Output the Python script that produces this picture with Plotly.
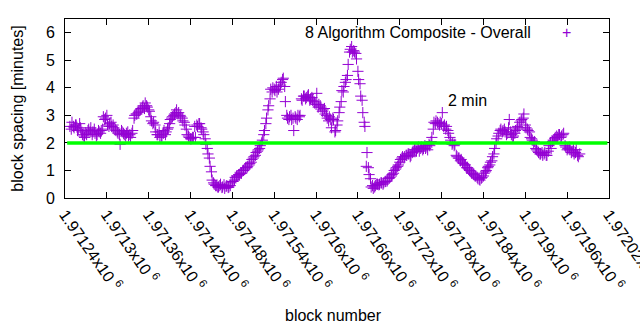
import plotly.graph_objects as go

# ---------------- data ----------------
SERIES_NAME = "8 Algorithm Composite - Overall"
FIRST_BLOCK = 1971247
BLOCK_STEP = 3

# spacing (minutes) for blocks FIRST_BLOCK + 3*i
spacing_a = [
    2.6, 2.75, 2.55, 2.65, 2.5, 2.55, 2.3, 2.2, 2.3, 2.5,
    2.55, 2.4, 2.35, 2.3, 2.4, 2.45, 2.95, 2.9, 2.65, 2.7,
    2.6, 2.55, 2.45, 2.35, 1.95, 2.4, 2.3, 2.35, 2.25, 2.2,
    2.45, 3.0, 3.05, 3.15, 3.25, 3.35, 3.45, 3.3, 3.15, 2.8,
    2.75, 2.4, 2.3, 2.2, 2.25, 2.45, 2.4, 2.55, 2.85, 2.95,
    3.05, 3.2, 3.1, 2.95, 2.8, 2.65, 2.3, 2.2, 2.15, 2.2,
    2.2, 2.6, 2.7, 2.5, 2.3, 1.95, 1.6, 1.15, 0.65, 0.5,
    0.45, 0.4, 0.5, 0.4, 0.35, 0.45, 0.4, 0.55, 0.6, 0.75,
    0.8, 0.85, 0.9, 1.0, 1.1, 1.15, 1.25, 1.4, 1.5, 1.65,
    1.75, 1.9, 2.1, 2.45, 2.9, 3.35, 3.95, 4.0, 3.9, 3.85,
    4.05, 4.2, 4.35, 3.5, 2.9, 2.95, 2.85, 2.45, 2.9, 3.0,
    3.0, 3.55, 3.7, 3.65, 3.75, 3.6, 3.55, 3.45, 3.8, 3.4,
    3.3, 3.2, 3.05, 2.9, 2.95, 2.55, 2.85, 2.45, 2.8, 3.3,
    3.9, 4.05, 4.3, 4.85, 5.4, 5.3, 5.3, 5.05, 4.3, 3.7,
    3.1, 2.6, 1.65, 0.85, 0.4, 0.35, 0.45, 0.5, 0.5, 0.55,
    0.55, 0.6, 0.7, 0.75, 0.85, 1.0, 1.1, 1.2, 1.4, 1.5,
    1.5, 1.55, 1.6, 1.55, 1.7, 1.75, 1.8, 1.7, 1.85, 1.8,
    1.8, 1.75, 1.9, 2.2, 2.75, 2.8, 2.7, 2.75, 3.1, 2.65,
    2.6, 2.35, 2.1, 2.0, 1.95, 1.5, 1.45, 1.4, 1.25, 1.2,
    1.1, 1.0, 0.9, 0.85, 0.8, 0.7, 0.65, 0.75, 0.9, 1.0,
    1.15, 1.3, 1.5, 1.8, 2.15, 2.35, 2.5, 2.45, 2.4, 2.35,
    2.85, 2.3, 2.25, 2.45, 2.6, 2.75, 2.85, 3.05, 2.55, 2.45,
    2.2, 2.1, 2.05, 1.75, 1.65, 1.6, 1.55, 1.65, 1.55, 1.9,
    1.8, 2.1, 2.2, 2.2, 2.3, 2.25, 2.35, 1.85, 1.8, 1.75,
    1.7, 1.6, 1.75, 1.5,
]
# spacing (minutes) for blocks FIRST_BLOCK + 2 + 3*i
spacing_b = [
    2.5, 2.6, 2.65, 2.45, 2.7, 2.4, 2.25, 2.35, 2.45, 2.4,
    2.3, 2.5, 2.25, 2.45, 2.35, 2.5, 2.85, 3.0, 2.6, 2.75,
    2.65, 2.5, 2.4, 2.3, 2.45, 2.35, 2.25, 2.4, 2.3, 2.35,
    2.9, 3.05, 3.1, 3.2, 3.3, 3.25, 3.35, 3.2, 2.95, 2.7,
    2.65, 2.3, 2.4, 2.25, 2.35, 2.3, 2.5, 2.7, 2.9, 3.0,
    3.1, 3.05, 3.0, 2.9, 2.75, 2.5, 2.25, 2.15, 2.2, 2.6,
    2.65, 2.7, 2.55, 2.4, 2.15, 1.8, 1.45, 0.95, 0.55, 0.45,
    0.4, 0.45, 0.38, 0.48, 0.42, 0.38, 0.45, 0.6, 0.65, 0.8,
    0.85, 0.9, 1.0, 1.05, 1.1, 1.2, 1.3, 1.45, 1.55, 1.7,
    1.8, 2.0, 2.3, 2.7, 3.2, 3.6, 3.85, 3.95, 4.05, 3.95,
    4.1, 4.3, 4.05, 3.0, 2.85, 3.0, 2.9, 2.95, 2.85, 2.95,
    3.6, 3.7, 3.6, 3.7, 3.55, 3.65, 3.5, 3.4, 3.3, 3.35,
    3.15, 3.25, 3.0, 2.8, 2.85, 2.9, 2.4, 2.65, 3.1, 3.5,
    3.85, 4.2, 4.45, 5.3, 5.5, 5.35, 5.25, 4.6, 4.15, 3.55,
    2.75, 1.15, 1.1, 0.7, 0.45, 0.4, 0.5, 0.48, 0.55, 0.5,
    0.6, 0.62, 0.72, 0.8, 0.9, 1.05, 1.15, 1.3, 1.45, 1.45,
    1.55, 1.6, 1.5, 1.65, 1.75, 1.7, 1.85, 1.8, 1.75, 1.9,
    1.85, 1.95, 2.05, 2.5, 2.7, 2.75, 2.65, 2.7, 2.6, 2.5,
    2.45, 2.2, 1.95, 1.9, 1.55, 1.45, 1.35, 1.3, 1.2, 1.1,
    1.05, 0.95, 0.9, 0.8, 0.75, 0.68, 0.72, 0.8, 0.95, 1.1,
    1.2, 1.35, 1.6, 2.0, 2.25, 2.45, 2.4, 2.5, 2.3, 2.55,
    2.4, 2.2, 2.35, 2.5, 2.55, 2.8, 2.9, 2.65, 2.5, 2.4,
    2.15, 2.0, 1.8, 1.7, 1.6, 1.65, 1.6, 1.55, 1.7, 2.0,
    2.05, 2.15, 2.25, 2.3, 2.2, 2.3, 1.9, 1.75, 1.85, 1.65,
    1.75, 1.65, 1.55, 1.6,
]
blocks_a = [FIRST_BLOCK + BLOCK_STEP * i for i in range(len(spacing_a))]
blocks_b = [FIRST_BLOCK + 2 + BLOCK_STEP * i for i in range(len(spacing_b))]
block_numbers = blocks_a + blocks_b
spacing_minutes = spacing_a + spacing_b

TARGET_MINUTES = 2
TARGET_LABEL = "2 min"

x_tick_values = [1971240, 1971300, 1971360, 1971420, 1971480, 1971540, 1971600,
                 1971660, 1971720, 1971780, 1971840, 1971900, 1971960, 1972020]
x_tick_labels = ["1.97124x10 <sup>6</sup>", "1.9713x10 <sup>6</sup>", "1.97136x10 <sup>6</sup>",
                 "1.97142x10 <sup>6</sup>", "1.97148x10 <sup>6</sup>", "1.97154x10 <sup>6</sup>",
                 "1.9716x10 <sup>6</sup>", "1.97166x10 <sup>6</sup>", "1.97172x10 <sup>6</sup>",
                 "1.97178x10 <sup>6</sup>", "1.97184x10 <sup>6</sup>", "1.9719x10 <sup>6</sup>",
                 "1.97196x10 <sup>6</sup>", "1.97202x10 <sup>6</sup>"]
y_tick_values = [0, 1, 2, 3, 4, 5, 6]

X_TITLE = "block number"
Y_TITLE = "block spacing [minutes]"

# ---------------- style ----------------
PURPLE = "#9400d3"
GREEN = "#00ff00"
FONT = "Liberation Sans, Arial, sans-serif"
FS = 16

fig = go.Figure()
fig.add_trace(go.Scatter(
    x=block_numbers, y=spacing_minutes, mode="markers", name=SERIES_NAME,
    showlegend=False,
    marker=dict(symbol="cross-thin-open", size=8, color=PURPLE,
                line=dict(width=1, color=PURPLE)),
))

fig.add_shape(type="line", xref="paper", yref="y", x0=0.004, x1=0.997,
              y0=TARGET_MINUTES, y1=TARGET_MINUTES,
              line=dict(color=GREEN, width=3.5), layer="above")

axis_common = dict(
    showline=True, linecolor="black", linewidth=1, mirror="allticks",
    ticks="inside", ticklen=6, tickcolor="black", tickwidth=1,
    showgrid=False, zeroline=False, automargin=False,
    tickfont=dict(family=FONT, size=FS, color="black"),
)

fig.update_layout(
    width=640, height=330,
    margin=dict(l=65, r=31, t=19, b=132),
    paper_bgcolor="white", plot_bgcolor="white",
    font=dict(family=FONT, size=FS, color="black"),
    xaxis=dict(range=[x_tick_values[0], x_tick_values[-1]],
               tickmode="array", tickvals=x_tick_values, ticktext=x_tick_labels,
               tickangle=55, ticklabeloverflow="allow", **axis_common),
    yaxis=dict(range=[0, 6.5], tickmode="array", tickvals=y_tick_values,
               ticklabelstandoff=6, **axis_common),
    showlegend=False,
)

annotations = [
    dict(text=Y_TITLE, xref="paper", yref="paper", x=-0.088, y=0.5,
         xanchor="center", yanchor="middle", textangle=-90, showarrow=False),
    dict(text=X_TITLE, xref="paper", yref="paper", x=0.494, y=-0.659,
         xanchor="center", yanchor="middle", showarrow=False),
    dict(text=TARGET_LABEL, xref="paper", yref="paper", x=0.6997, y=0.542,
         xanchor="left", yanchor="middle", showarrow=False),
    dict(text=SERIES_NAME, xref="paper", yref="paper", x=0.8595, y=0.927,
         xanchor="right", yanchor="middle", showarrow=False),
    dict(text="+", xref="paper", yref="paper", x=0.922, y=0.927,
         xanchor="center", yanchor="middle", showarrow=False,
         font=dict(color=PURPLE, size=FS)),
]
fig.update_layout(annotations=annotations)

fig.write_html("out.html")
